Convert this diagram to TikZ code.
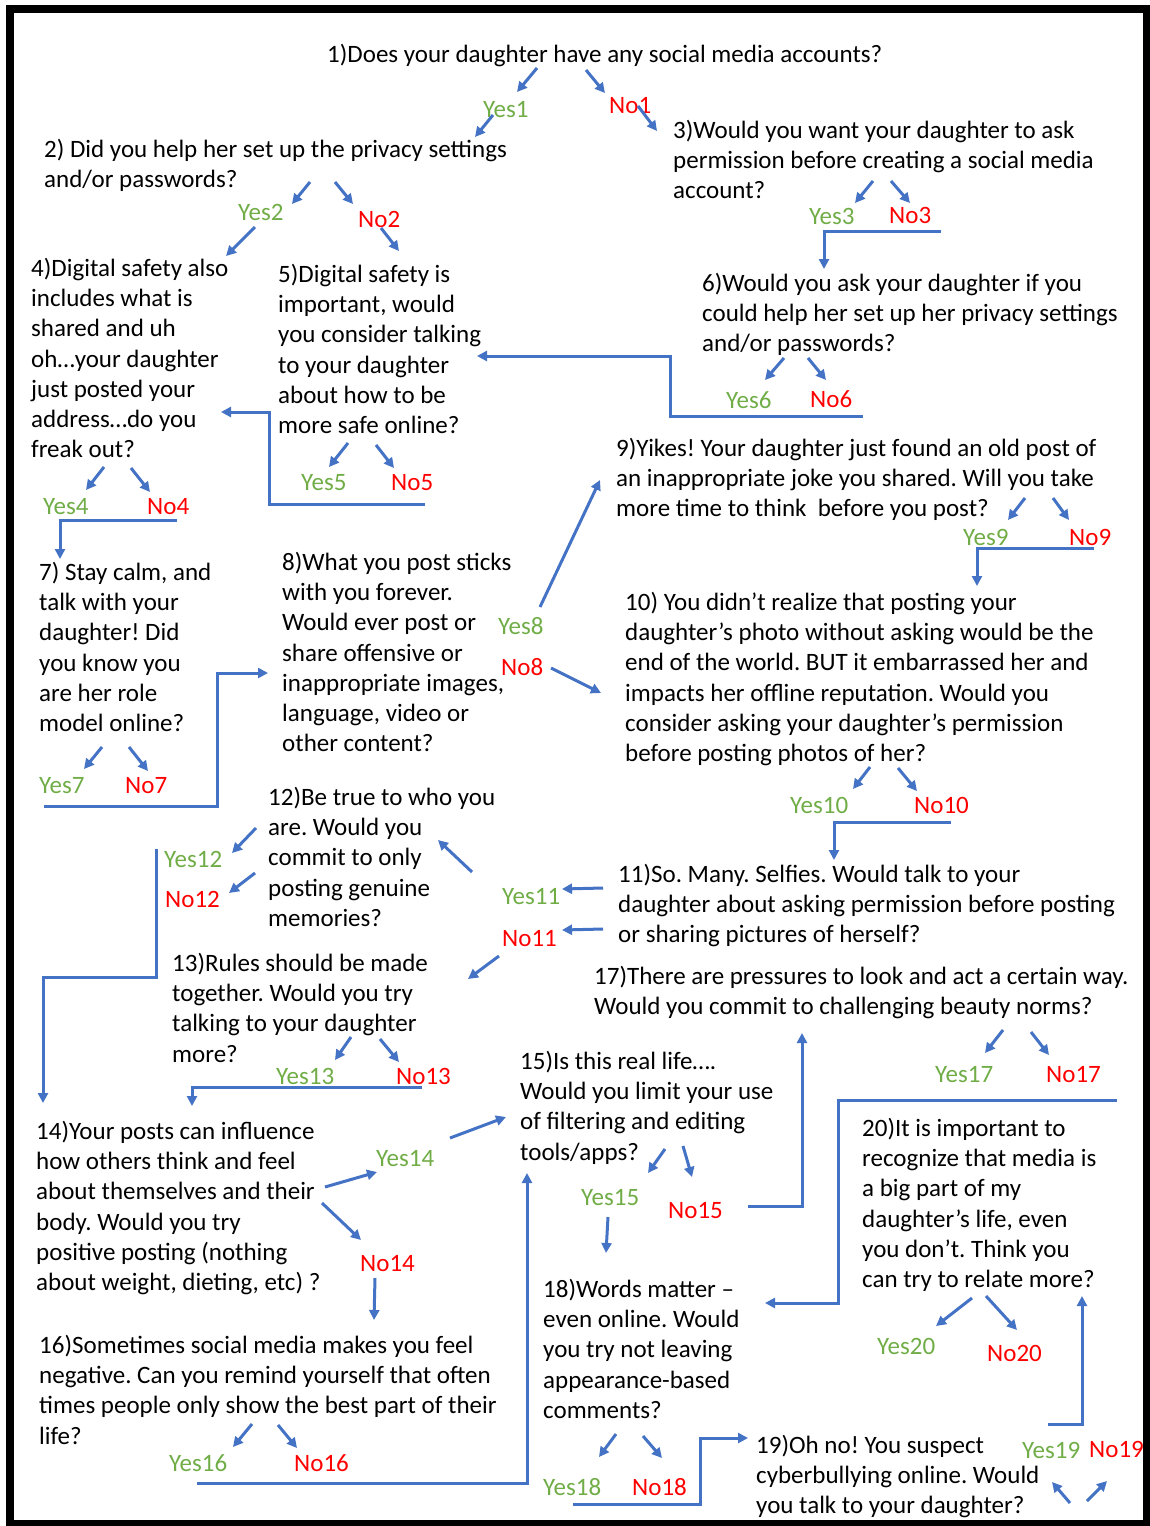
\documentclass[tikz,border=0pt]{standalone}
\usepackage{fontspec}
\setmainfont{Carlito}
\usetikzlibrary{arrows.meta}
\definecolor{arrblue}{HTML}{4472C4}
\definecolor{yesgreen}{HTML}{70AD47}
\definecolor{nored}{HTML}{FF0000}
\frenchspacing

\begin{document}
\begin{tikzpicture}[x=1pt,y=-1pt,>={Triangle[length=10pt,width=10pt]},
  txt/.style={anchor=north west,yshift=18pt,inner sep=0pt,align=left,
    execute at begin node={\rule{0pt}{20pt}},font=\fontsize{25}{30.2}\selectfont},
  yes/.style={txt,text=yesgreen},
  no/.style={txt,text=nored},
  arr/.style={arrblue,line width=3pt,->}]
\useasboundingbox (0,0) rectangle (1150,1526);
\draw[line width=8pt] (10,9) rectangle (1147,1524);

% questions and answers
\node[txt] (q1) at (327,60) {1)Does your daughter have any social media accounts?};
\node[yes] (y1) at (483,115) {Yes1};
\node[no] (n1) at (609,111) {No1};
\node[txt] (q2) at (44,157) {2) Did you help her set up the privacy settings\\and/or passwords?};
\node[txt] (q3) at (673,138) {3)Would you want your daughter to ask\\permission before creating a social media\\account?};
\node[yes] (y2) at (238,218) {Yes2};
\node[no] (n2) at (358,225) {No2};
\node[yes] (y3) at (809,222) {Yes3};
\node[no] (n3) at (889,221) {No3};
\node[txt] (q4) at (31,276) {4)Digital safety also\\includes what is\\shared and uh\\oh…your daughter\\just posted your\\address…do you\\freak out?};
\node[txt] (q5) at (278,282) {5)Digital safety is\\important, would\\you consider talking\\to your daughter\\about how to be\\more safe online?};
\node[txt] (q6) at (702,291) {6)Would you ask your daughter if you\\could help her set up her privacy settings\\and/or passwords?};
\node[yes] (y6) at (726,406) {Yes6};
\node[no] (n6) at (810,405) {No6};
\node[yes] (y5) at (301,488) {Yes5};
\node[no] (n5) at (391,488) {No5};
\node[yes] (y4) at (43,512) {Yes4};
\node[no] (n4) at (147,512) {No4};
\node[txt] (q9) at (616,456) {9)Yikes! Your daughter just found an old post of\\an inappropriate joke you shared. Will you take\\more time to think\ \ before you post?};
\node[yes] (y9) at (963,543) {Yes9};
\node[no] (n9) at (1069,543) {No9};
\node[txt] (q7) at (39,580) {7) Stay calm, and\\talk with your\\daughter! Did\\you know you\\are her role\\model online?};
\node[txt] (q8) at (282,570) {8)What you post sticks\\with you forever.\\Would ever post or\\share offensive or\\inappropriate images,\\language, video or\\other content?};
\node[yes] (y8) at (498,632) {Yes8};
\node[no] (n8) at (501,673) {No8};
\node[txt] (q10) at (625,610) {10) You didn’t realize that posting your\\daughter’s photo without asking would be the\\end of the world. BUT it embarrassed her and\\impacts her offline reputation. Would you\\consider asking your daughter’s permission\\before posting photos of her?};
\node[yes] (y7) at (39,791) {Yes7};
\node[no] (n7) at (125,791) {No7};
\node[yes] (y10) at (790,811) {Yes10};
\node[no] (n10) at (914,811) {No10};
\node[txt] (q12) at (268,805) {12)Be true to who you\\are. Would you\\commit to only\\posting genuine\\memories?};
\node[yes] (y12) at (164,865) {Yes12};
\node[no] (n12) at (165,905) {No12};
\node[txt] (q11) at (618,882) {11)So. Many. Selfies. Would talk to your\\daughter about asking permission before posting\\or sharing pictures of herself?};
\node[yes] (y11) at (502,902) {Yes11};
\node[no] (n11) at (502,944) {No11};
\node[txt] (q13) at (172,971) {13)Rules should be made\\together. Would you try\\talking to your daughter\\more?};
\node[txt] (q17) at (594,984) {17)There are pressures to look and act a certain way.\\Would you commit to challenging beauty norms?};
\node[yes] (y13) at (276,1082) {Yes13};
\node[no] (n13) at (396,1082) {No13};
\node[txt] (q15) at (520,1069) {15)Is this real life….\\Would you limit your use\\of filtering and editing\\tools/apps?};
\node[yes] (y17) at (935,1080) {Yes17};
\node[no] (n17) at (1046,1080) {No17};
\node[txt] (q14) at (36,1139) {14)Your posts can influence\\how others think and feel\\about themselves and their\\body. Would you try\\positive posting (nothing\\about weight, dieting, etc) ?};
\node[yes] (y14) at (376,1164) {Yes14};
\node[txt] (q20) at (862,1136) {20)It is important to\\recognize that media is\\a big part of my\\daughter’s life, even\\you don’t. Think you\\can try to relate more?};
\node[yes] (y15) at (581,1203) {Yes15};
\node[no] (n15) at (668,1216) {No15};
\node[no] (n14) at (360,1269) {No14};
\node[txt] (q18) at (543,1297) {18)Words matter –\\even online. Would\\you try not leaving\\appearance-based\\comments?};
\node[yes] (y20) at (877,1352) {Yes20};
\node[no] (n20) at (987,1359) {No20};
\node[txt] (q16) at (39,1353) {16)Sometimes social media makes you feel\\negative. Can you remind yourself that often\\times people only show the best part of their\\life?};
\node[txt] (q19) at (756,1453) {19)Oh no! You suspect\\cyberbullying online. Would\\you talk to your daughter?};
\node[yes] (y19) at (1022,1456) {Yes19};
\node[no] (n19) at (1089,1455) {No19};
\node[yes] (y16) at (169,1469) {Yes16};
\node[no] (n16) at (294,1469) {No16};
\node[yes] (y18) at (543,1493) {Yes18};
\node[no] (n18) at (632,1493) {No18};

% short arrows
\foreach \xa/\ya/\xb/\yb in {537/68/517/92, 586/70/605/93, 493/115/475/137, 638/106/657/131,
    310/182/292/204, 335/182/353/204, 255/227/226/256, 381/228/399/251,
    873/181/855/203, 891/181/910/203, 784/358/765/380, 808/358/826/380,
    104/467/86/490, 131/468/150/492, 348/443/329/467, 376/445/394/468,
    1025/498/1008/520, 1053/498/1069/520, 540/607/600/480, 551/668/601/693,
    102/747/84/769, 129/747/148/771, 870/767/853/789, 898/768/917/791,
    256/828/232/853, 255/873/229/893, 472/872/438/840, 603/888/562/889,
    603/929/562/930, 499/956/468/979, 351/1037/335/1060, 380/1039/399/1062,
    1003/1030/985/1053, 1031/1032/1049/1055, 325/1187/377/1172, 322/1203/361/1240,
    450/1138/506/1117, 375/1278/374/1320, 665/1149/648/1173, 683/1146/692/1177,
    608/1217/606/1253, 972/1298/936/1326, 986/1296/1017/1330, 252/1424/233/1447,
    278/1425/297/1448, 616/1434/599/1457, 643/1436/662/1458,
    1070/1503/1052/1482, 1087/1501/1107/1481}
  \draw[arr] (\xa,\ya) -- (\xb,\yb);

% elbow links
\draw[arr] (941,231) -| (824,269);
\draw[arr] (863,416) -| (670,356) -- (477,356);
\draw[arr] (425,504) -| (269,412) -- (221,412);
\draw[arr] (177,520) -| (60,559);
\draw[arr] (1094,548) -| (977,586);
\draw[arr] (44,806) -| (217,673) -- (268,673);
\draw[arr] (951,822) -| (834,860);
\draw[arr] (156,849) |- (43,977) -- (43,1103);
\draw[arr] (422,1087) -| (192,1106);
\draw[arr] (1117,1100) -| (838,1303) -- (765,1303);
\draw[arr] (748,1206) -| (802,1033);
\draw[arr] (197,1483) -| (527,1173);
\draw[arr] (573,1504) -| (700,1438) -- (748,1438);
\draw[arr] (1048,1424) -| (1082,1296);
\end{tikzpicture}
\end{document}
